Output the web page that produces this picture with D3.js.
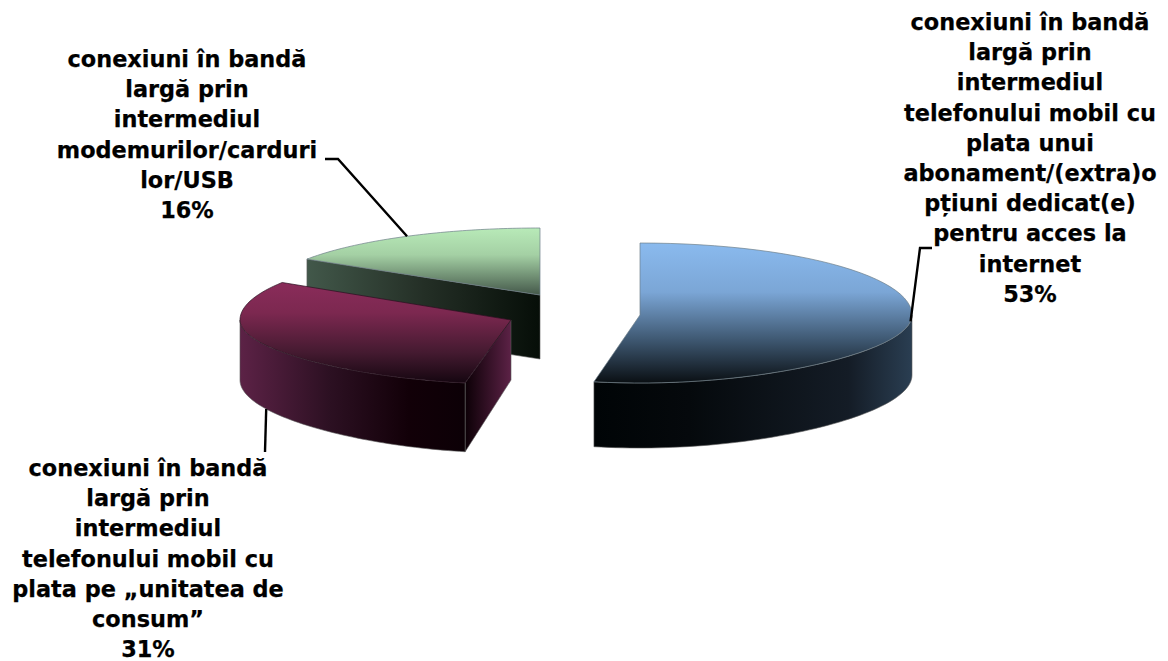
<!DOCTYPE html>
<html>
<head>
<meta charset="utf-8">
<script src="https://cdn.jsdelivr.net/npm/d3@7/dist/d3.min.js"></script>
<style>
  html, body { margin: 0; background: #fff; }
  text { font-family: "DejaVu Sans", sans-serif; font-weight: bold; font-size: 22.4px; fill: #000; stroke: #000; stroke-width: 0.25px; text-anchor: middle; }
</style>
</head>
<body>
<script>
// data
const categories = ["mobil_abonament", "mobil_consum", "modem"];
const values = [53, 31, 16];
const labelLines = [
  ["conexiuni în bandă", "largă prin", "intermediul", "telefonului mobil cu", "plata unui", "abonament/(extra)o", "pțiuni dedicat(e)", "pentru acces la", "internet", "53%"],
  ["conexiuni în bandă", "largă prin", "intermediul", "telefonului mobil cu", "plata pe „unitatea de", "consum”", "31%"],
  ["conexiuni în bandă", "largă prin", "intermediul", "modemurilor/carduri", "lor/USB", "16%"]
];

// layout, one entry per slice
const layout = [
  { cx: 640, cy: 315, rx: 272, ry: 72, ryFront: 68, back: 60, front: 65, labelX: 1030, labelY: 30,  elbow: [920, 248], end: [932, 248] },
  { cx: 511, cy: 320, rx: 271, ry: 70, ryFront: 64, back: 60, front: 69, labelX: 148,  labelY: 476, elbow: [265, 452], end: [265, 452] },
  { cx: 540, cy: 295, rx: 276, ry: 67, ryFront: 64, back: 64, front: 64, labelX: 187,  labelY: 67,  elbow: [338, 159], end: [325, 159] }
];
const topStops = [
  [["0%", "#8abaee"], ["35%", "#7ba6d6"], ["70%", "#3d566f"], ["100%", "#0a0f13"]],
  [["0%", "#8a2c5a"], ["30%", "#7c2850"], ["70%", "#441a30"], ["100%", "#150610"]],
  [["0%", "#b8eab8"], ["40%", "#a4d0a4"], ["100%", "#44584a"]]
];
const rimStops = [
  [["0%", "#000406"], ["30%", "#05090c"], ["80%", "#141c26"], ["100%", "#2a3e52"]],
  [["0%", "#5c2246"], ["40%", "#2c1022"], ["75%", "#120008"], ["100%", "#0c0006"]],
  [["0%", "#42584a"], ["50%", "#242f26"], ["100%", "#060e08"]]
];
const cutStops = [
  null,
  [["0%", "#0c0006"], ["100%", "#5c2246"]],
  [["0%", "#42584a"], ["50%", "#242f26"], ["100%", "#060e08"]]
];

const width = 1168, height = 661;
const svg = d3.select("body").append("svg").attr("width", width).attr("height", height);
const defs = svg.append("defs");

function addGradient(id, stops, vertical) {
  const g = defs.append("linearGradient").attr("id", id)
    .attr("x1", 0).attr("y1", 0)
    .attr("x2", vertical ? 0 : 1).attr("y2", vertical ? 1 : 0);
  stops.forEach(s => g.append("stop").attr("offset", s[0]).attr("stop-color", s[1]));
}

const pie = d3.pie().sort(null).value(d => d);
const slices = pie(values);
const line = d3.line();

// point on the rim of slice i, optionally at the bottom of the wall
function rim(i, a, under) {
  const l = layout[i];
  const c = -Math.cos(a);
  const f = Math.max(c, 0);
  const y = l.cy + (c > 0 ? l.ryFront : l.ry) * c;
  const drop = under ? l.back + (l.front - l.back) * f : 0;
  // front of the pie is pulled in a bit, like the perspective in the picture
  const x = l.cx + l.rx * Math.sin(a) * (1 - 0.1 * f * f);
  return [x, y + drop];
}

function samples(a0, a1) {
  return d3.range(0, 61).map(k => a0 + (a1 - a0) * k / 60);
}

const chart = svg.append("g");
const edge = "#5a5a5a";

// back to front: modem, consum, abonament
[2, 1, 0].forEach(i => {
  const s = slices[i], l = layout[i];
  const g = chart.append("g").attr("class", categories[i]);
  addGradient("top" + i, topStops[i], true);
  addGradient("rim" + i, rimStops[i], false);
  if (cutStops[i]) addGradient("cut" + i, cutStops[i], false);

  // flat cut face that looks at the viewer
  if (cutStops[i]) {
    const p = rim(i, s.startAngle, false), q = rim(i, s.startAngle, true);
    g.append("path")
      .attr("d", line([[l.cx, l.cy], p, q, [l.cx, l.cy + l.back]]) + "Z")
      .attr("fill", `url(#cut${i})`)
      .attr("stroke", edge).attr("stroke-width", 0.6);
  }

  // outer wall, only the part facing front
  const a0 = Math.max(s.startAngle, Math.PI / 2);
  const a1 = Math.min(s.endAngle, Math.PI * 1.5);
  if (a1 > a0) {
    const steps = samples(a0, a1);
    const pts = steps.map(a => rim(i, a, false)).concat(steps.slice().reverse().map(a => rim(i, a, true)));
    g.append("path")
      .attr("d", line(pts) + "Z")
      .attr("fill", `url(#rim${i})`)
      .attr("stroke", edge).attr("stroke-width", 0.6);
  }

  // top face
  const topPts = [[l.cx, l.cy]].concat(samples(s.startAngle, s.endAngle).map(a => rim(i, a, false)));
  g.append("path")
    .attr("d", line(topPts) + "Z")
    .attr("fill", `url(#top${i})`)
    .attr("stroke", i === 1 ? "#2a1020" : "#6f7f8a")
    .attr("stroke-width", 0.7);
});

// leader lines start at the middle of each slice rim
slices.forEach((s, i) => {
  const l = layout[i];
  const mid = (s.startAngle + s.endAngle) / 2;
  const start = rim(i, mid, i === 1);
  svg.append("path")
    .attr("d", line([start, l.elbow, l.end]))
    .attr("fill", "none").attr("stroke", "#000").attr("stroke-width", 2.4);
});

// labels
labelLines.forEach((lines, i) => {
  const l = layout[i];
  svg.append("text").selectAll("tspan").data(lines).enter().append("tspan")
    .attr("x", l.labelX)
    .attr("y", (d, k) => l.labelY + k * 30.2)
    .text(d => d);
});
</script>
</body>
</html>
